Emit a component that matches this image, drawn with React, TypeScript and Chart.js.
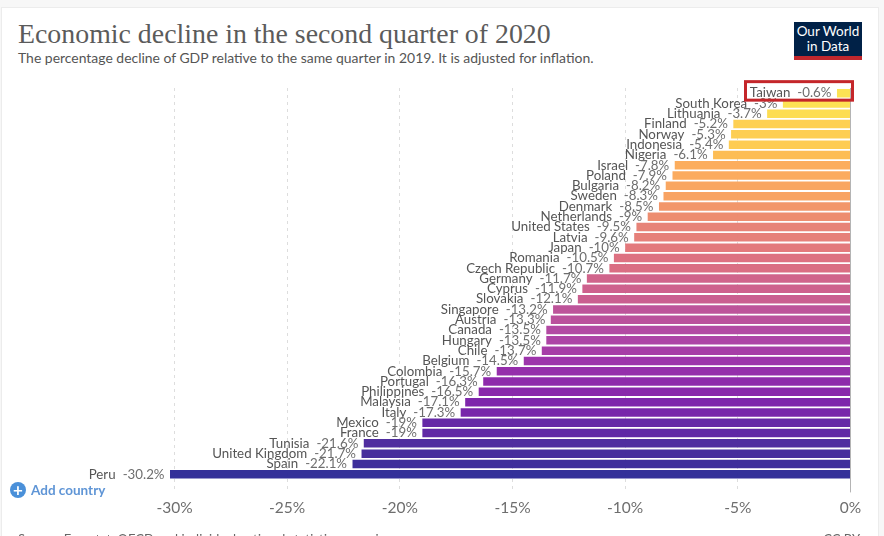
import React, { useEffect, useRef } from 'react';
import Chart from 'chart.js/auto';

const countries = [
  'Taiwan', 'South Korea', 'Lithuania', 'Finland', 'Norway', 'Indonesia', 'Nigeria', 'Israel', 'Poland', 'Bulgaria',
  'Sweden', 'Denmark', 'Netherlands', 'United States', 'Latvia', 'Japan', 'Romania', 'Czech Republic', 'Germany',
  'Cyprus', 'Slovakia', 'Singapore', 'Austria', 'Canada', 'Hungary', 'Chile', 'Belgium', 'Colombia', 'Portugal',
  'Philippines', 'Malaysia', 'Italy', 'Mexico', 'France', 'Tunisia', 'United Kingdom', 'Spain', 'Peru',
];
const gdpDecline = [
  -0.6, -3, -3.7, -5.2, -5.3, -5.4, -6.1, -7.8, -7.9, -8.2,
  -8.3, -8.5, -9, -9.5, -9.6, -10, -10.5, -10.7, -11.7,
  -11.9, -12.1, -13.2, -13.3, -13.5, -13.5, -13.7, -14.5, -15.7, -16.3,
  -16.5, -17.1, -17.3, -19, -19, -21.6, -21.7, -22.1, -30.2,
];
const barColors = [
  '#fce24f', '#fde14f', '#fddc4c', '#fecf4d', '#fdcd4e', '#fecb4e', '#fdbb4f', '#fcab58', '#fba95a', '#f9a35d',
  '#f8a05f', '#f29366', '#ed8a6c', '#e67f74', '#e57c76', '#e27578', '#dc6d7d', '#d96a80', '#cf6088',
  '#cd5d8a', '#c85a8d', '#bb4f97', '#b84c99', '#b045a0', '#ab3fa3', '#a438a5', '#9a2ea9', '#9228a9', '#8b24a9',
  '#8622a9', '#7a20a9', '#7320a8', '#6122a4', '#5b22a2', '#4b279c', '#412899', '#392998', '#2e2a96',
];
const xTicks = [-30, -25, -20, -15, -10, -5, 0];

// country name + value to the left of each bar, and the red box around Taiwan
const barLabels = {
  id: 'barLabels',
  afterDatasetsDraw(chart: any) {
    const { ctx } = chart;
    const bars = chart.getDatasetMeta(0).data;
    ctx.save();
    ctx.font = '13.3px Lato';
    ctx.textBaseline = 'middle';
    ctx.textAlign = 'right';
    bars.forEach((bar: any, i: number) => {
      const value = gdpDecline[i] + '%';
      const x = bar.x - 5.5;
      ctx.fillStyle = '#6e6e6e';
      ctx.fillText(value, x, bar.y);
      ctx.fillStyle = '#555555';
      ctx.fillText(countries[i], x - ctx.measureText(value).width - 7, bar.y);
    });
    const zero = chart.scales.x.getPixelForValue(0);
    ctx.strokeStyle = '#c4262a';
    ctx.lineWidth = 3;
    ctx.strokeRect(zero - 105, bars[0].y - 11.5, 107, 18.5);
    ctx.restore();
  },
};

const text: React.CSSProperties = { position: 'absolute', whiteSpace: 'nowrap', fontFamily: 'Lato' };

const App = () => {
  const chartRef = useRef<HTMLCanvasElement>(null);

  useEffect(() => {
    if (!chartRef.current) return;
    const chart = new Chart(chartRef.current, {
      type: 'bar',
      data: {
        labels: countries,
        datasets: [
          {
            data: gdpDecline,
            backgroundColor: barColors.map((c) => c + 'f8'),
            barPercentage: 0.83,
            categoryPercentage: 1,
          },
        ],
      },
      options: {
        indexAxis: 'y',
        responsive: false,
        animation: false,
        layout: { padding: { left: 170, right: 33.5, top: 88, bottom: 13 } },
        plugins: { legend: { display: false }, tooltip: { enabled: false } },
        scales: {
          y: { display: false },
          x: {
            min: -30.2,
            max: 0,
            afterBuildTicks: (axis: any) => {
              axis.ticks = xTicks.map((value) => ({ value }));
            },
            grid: {
              color: (c: any) => (c.tick?.value === 0 ? '#b4b4b4' : '#dddddd'),
              tickColor: (c: any) => (c.tick?.value === 0 ? '#b4b4b4' : '#dddddd'),
              tickLength: 13,
              tickBorderDash: (c: any) => (c.tick?.value === 0 ? [] : [3, 4]),
            },
            border: { display: false, dash: (c: any) => (c.tick?.value === 0 ? [] : [3, 4]) },
            ticks: {
              autoSkip: false,
              maxRotation: 0,
              padding: 6,
              color: '#6e6e6e',
              font: { family: 'Lato', size: 15.5 },
              callback: (value: any) => value + '%',
            },
          },
        },
      },
      plugins: [barLabels],
    });
    return () => chart.destroy();
  }, []);

  return (
    <div style={{ position: 'fixed', left: 0, top: 0, width: 884, height: 536, overflow: 'hidden', background: '#f7f7f7' }}>
      <div style={{ position: 'absolute', left: 1, top: 7, width: 876, height: 540, background: '#fff', border: '1px solid #ececec' }} />
      <div style={{ ...text, left: 18, top: 18, fontFamily: 'Liberation Serif', fontSize: 27.85, color: '#5b5b5b' }}>
        Economic decline in the second quarter of 2020
      </div>
      <div style={{ ...text, left: 18, top: 49, fontSize: 13.95, color: '#555' }}>
        The percentage decline of GDP relative to the same quarter in 2019. It is adjusted for inflation.
      </div>
      <div style={{ position: 'absolute', left: 794, top: 22, width: 68, height: 32, background: '#002147', borderBottom: '4px solid #c0272d', color: '#fff', fontFamily: 'Lato', fontSize: 13.5, lineHeight: '15px', textAlign: 'center', paddingTop: 2, boxSizing: 'content-box' }}>
        Our World<br />in Data
      </div>
      <canvas ref={chartRef} width={884} height={536} style={{ position: 'absolute', left: 0, top: 0 }} />
      <div style={{ position: 'absolute', left: 10, top: 482, width: 16, height: 16, borderRadius: 8, background: '#4a90d9', color: '#fff', fontFamily: 'Lato', fontWeight: 700, fontSize: 17, lineHeight: '16px', textAlign: 'center' }}>+</div>
      <div style={{ ...text, left: 31, top: 482, fontSize: 13.5, fontWeight: 700, color: '#5f95d6' }}>Add country</div>
      <div style={{ ...text, left: 18, top: 531, fontSize: 13, color: '#666' }}>
        Source: Eurostat, OECD and individual national statistics agencies
      </div>
      <div style={{ ...text, right: 24, top: 531, fontSize: 13, color: '#666' }}>CC BY</div>
    </div>
  );
};

export default App;
